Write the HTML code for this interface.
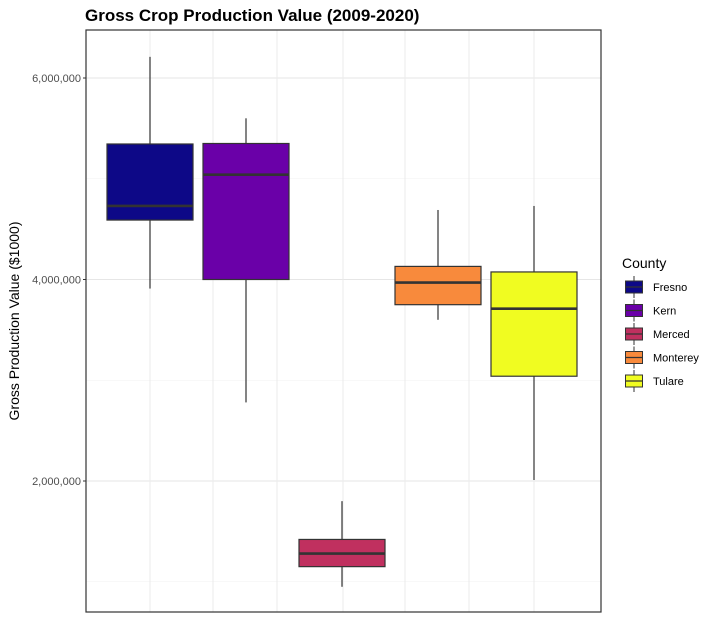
<!DOCTYPE html>
<html><head><meta charset="utf-8"><style>
body{margin:0;background:#fff;font-family:"Liberation Sans",Arial,sans-serif}
svg text{font-family:"Liberation Sans",Arial,sans-serif}
</style></head><body>
<svg id="c" width="717" height="625" xmlns="http://www.w3.org/2000/svg">
<text x="85" y="21" font-size="17" font-weight="bold" fill="#000">Gross Crop Production Value (2009-2020)</text>
<text transform="translate(19,321) rotate(-90)" text-anchor="middle" font-size="14" fill="#000">Gross Production Value ($1000)</text>
<text x="622" y="268" font-size="14" fill="#000">County</text>
</svg>
<script>
const counties=["Fresno","Kern","Merced","Monterey","Tulare"];
const colors=["#0d0887","#6a00a8","#c0305f","#f88a3c","#f0fc21"];
const whiskerHigh=[6210000,5600000,1800000,4690000,4730000];
const q3=[5345000,5350000,1420000,4130000,4075000];
const median=[4730000,5040000,1280000,3970000,3710000];
const q1=[4590000,4000000,1150000,3750000,3040000];
const whiskerLow=[3910000,2780000,950000,3600000,2010000];
const yTicks=[2000000,4000000,6000000];
const yTickLabels=["2,000,000","4,000,000","6,000,000"];
const yMinor=[1000000,3000000,5000000];
const svg=document.getElementById('c');
const NS="http://www.w3.org/2000/svg";
const L=86,R=601,T=30,B=612;
function y(v){return 78+(6000000-v)/2000000*201.5;}
function xc(i){return 150+i*96;}
function mk(t,a,p){const e=document.createElementNS(NS,t);for(const k in a)e.setAttribute(k,a[k]);(p||svg).appendChild(e);return e;}
const g=mk('g',{});


yMinor.forEach(v=>{const l=mk('line',{x1:L,x2:R,y1:y(v),y2:y(v),stroke:'#f0f0f0','stroke-width':0.6},g);});
yTicks.forEach(v=>{const l=mk('line',{x1:L,x2:R,y1:y(v),y2:y(v),stroke:'#e6e6e6','stroke-width':1.1},g);});
[150,213,277,343,405,469,534].forEach(xx=>{const l=mk('line',{x1:xx,x2:xx,y1:T,y2:B,stroke:'#ebebeb','stroke-width':1},g);});
counties.forEach((c,i)=>{
 const bg=mk('g',{});
 
 
 const cx=xc(i),hw=43;
 mk('line',{x1:cx,x2:cx,y1:y(whiskerHigh[i]),y2:y(q3[i]),stroke:'#333','stroke-width':1.2},bg);
 mk('line',{x1:cx,x2:cx,y1:y(q1[i]),y2:y(whiskerLow[i]),stroke:'#333','stroke-width':1.2},bg);
 mk('rect',{x:cx-hw,y:y(q3[i]),width:hw*2,height:y(q1[i])-y(q3[i]),fill:colors[i],stroke:'#333','stroke-width':1.2},bg);
 mk('line',{x1:cx-hw,x2:cx+hw,y1:y(median[i]),y2:y(median[i]),stroke:'#333','stroke-width':2.6},bg);
});
mk('rect',{x:L,y:T,width:R-L,height:B-T,fill:'none',stroke:'#333','stroke-width':1.2});
yTicks.forEach((v,i)=>{
 mk('line',{x1:L-3,x2:L,y1:y(v),y2:y(v),stroke:'#333','stroke-width':1});
 const t=mk('text',{x:L-5,y:y(v)+4,'text-anchor':'end','font-size':11,fill:'#4d4d4d'});
 t.textContent=yTickLabels[i];
 
 
});
counties.forEach((c,i)=>{
 const lg=mk('g',{});
 
 
 const cy=287+i*23.5;
 mk('line',{x1:634,x2:634,y1:cy-11,y2:cy+11,stroke:'#333','stroke-width':1},lg);
 mk('rect',{x:625.5,y:cy-6,width:17,height:12,fill:colors[i],stroke:'#333','stroke-width':1},lg);
 mk('line',{x1:625.5,x2:642.5,y1:cy,y2:cy,stroke:'#333','stroke-width':1.3},lg);
 const t=mk('text',{x:653,y:cy+4,'font-size':11,fill:'#000'},lg);
 t.textContent=c;
});
</script>
</body></html>
